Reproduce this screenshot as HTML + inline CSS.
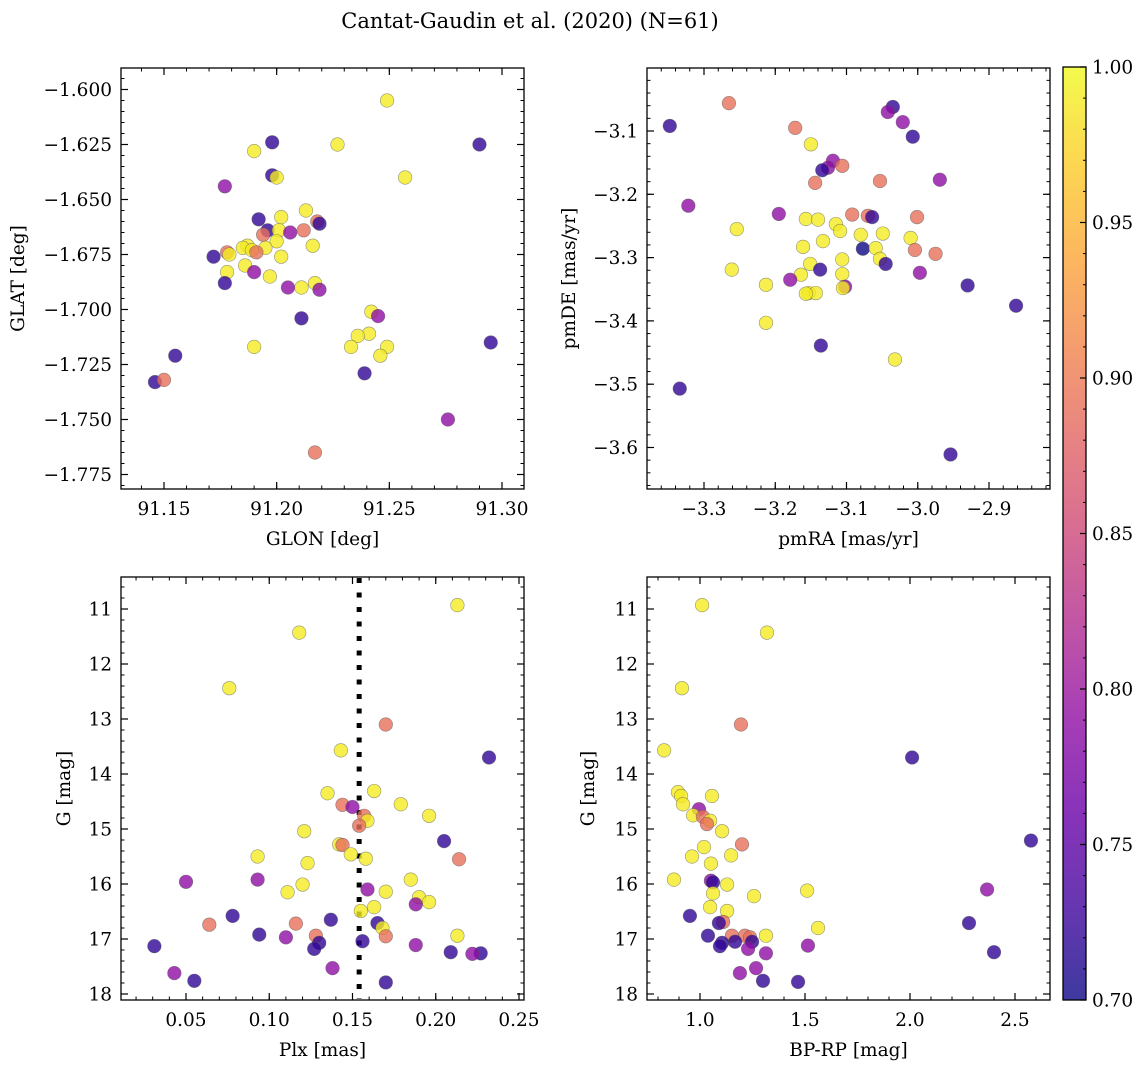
<!DOCTYPE html>
<html><head><meta charset="utf-8"><style>
html,body{margin:0;padding:0;background:#fff;}
svg{display:block;font-family:"DejaVu Serif","Liberation Serif",serif;}
</style></head><body>
<svg id="fig" width="1148" height="1067" viewBox="0 0 1148 1067" xmlns="http://www.w3.org/2000/svg">
<text x="530" y="28" font-size="21" text-anchor="middle">Cantat-Gaudin et al. (2020) (N=61)</text>
</svg>
<script>
// ---------- DATA ----------
const p1Glon=[91.249,91.198,91.227,91.290,91.190,91.257,91.198,91.200,91.177,91.213,91.202,91.192,91.218,91.219,91.212,91.196,91.201,91.206,91.194,91.200,91.187,91.185,91.189,91.178,91.195,91.191,91.172,91.179,91.216,91.202,91.186,91.178,91.197,91.190,91.177,91.217,91.211,91.205,91.219,91.211,91.242,91.245,91.241,91.236,91.233,91.249,91.246,91.190,91.295,91.155,91.239,91.146,91.150,91.276,91.217];
const p1Glat=[-1.605,-1.624,-1.625,-1.625,-1.628,-1.640,-1.639,-1.640,-1.644,-1.655,-1.658,-1.659,-1.660,-1.661,-1.664,-1.664,-1.664,-1.665,-1.666,-1.669,-1.671,-1.672,-1.673,-1.674,-1.672,-1.674,-1.676,-1.675,-1.671,-1.676,-1.680,-1.683,-1.685,-1.683,-1.688,-1.688,-1.690,-1.690,-1.691,-1.704,-1.701,-1.703,-1.711,-1.712,-1.717,-1.717,-1.721,-1.717,-1.715,-1.721,-1.729,-1.733,-1.732,-1.750,-1.765];
const p1Prob=[.99,.72,.99,.72,.99,.99,.72,.99,.79,.99,.99,.72,.89,.72,.89,.72,.99,.79,.89,.99,.99,.99,.99,.89,.99,.89,.72,.99,.99,.99,.99,.99,.99,.79,.72,.99,.99,.79,.79,.72,.99,.79,.99,.99,.99,.99,.99,.99,.72,.72,.72,.72,.89,.79,.89];

const p2PmRA=[-3.265,-3.348,-3.035,-3.042,-3.021,-3.007,-3.172,-3.150,-3.119,-3.126,-3.106,-3.134,-3.144,-3.053,-2.969,-3.322,-3.195,-3.092,-3.070,-3.064,-3.001,-3.157,-3.140,-3.115,-3.254,-3.109,-3.133,-3.080,-3.049,-3.010,-3.161,-3.077,-3.059,-3.004,-2.975,-3.053,-3.106,-3.151,-3.261,-3.045,-3.164,-3.137,-3.106,-2.997,-3.179,-3.213,-3.153,-3.143,-3.157,-3.102,-3.105,-2.930,-3.213,-2.862,-3.136,-3.334,-3.032,-2.954];
const p2PmDE=[-3.056,-3.092,-3.062,-3.070,-3.086,-3.109,-3.095,-3.121,-3.147,-3.158,-3.155,-3.162,-3.182,-3.179,-3.177,-3.218,-3.231,-3.232,-3.234,-3.236,-3.236,-3.239,-3.240,-3.247,-3.255,-3.258,-3.274,-3.264,-3.262,-3.269,-3.283,-3.286,-3.285,-3.288,-3.294,-3.302,-3.303,-3.310,-3.319,-3.310,-3.327,-3.319,-3.326,-3.324,-3.335,-3.343,-3.356,-3.356,-3.357,-3.346,-3.348,-3.344,-3.403,-3.376,-3.439,-3.507,-3.461,-3.611];
const p2Prob=[.89,.72,.72,.79,.79,.72,.89,.99,.79,.79,.89,.72,.89,.89,.79,.79,.79,.89,.89,.72,.89,.99,.99,.99,.99,.99,.99,.99,.99,.99,.99,.70,.99,.89,.89,.99,.99,.99,.99,.72,.99,.72,.99,.79,.79,.99,.99,.99,.99,.79,.99,.72,.99,.72,.72,.72,.99,.72];

const p3Plx=[.213,.118,.076,.170,.232,.143,.135,.163,.179,.144,.150,.157,.159,.196,.121,.154,.205,.142,.144,.149,.158,.093,.214,.123,.050,.093,.120,.159,.170,.185,.111,.190,.196,.188,.163,.155,.078,.137,.064,.116,.165,.168,.094,.110,.128,.130,.170,.213,.156,.188,.031,.127,.209,.227,.222,.138,.043,.055,.170];
const p3G=[10.93,11.43,12.44,13.10,13.70,13.57,14.35,14.31,14.55,14.56,14.60,14.76,14.85,14.76,15.04,14.94,15.22,15.28,15.29,15.46,15.54,15.50,15.55,15.62,15.96,15.92,16.01,16.10,16.14,15.92,16.15,16.24,16.33,16.37,16.42,16.49,16.58,16.65,16.74,16.72,16.71,16.80,16.92,16.97,16.94,17.07,16.95,16.94,17.04,17.11,17.13,17.18,17.24,17.26,17.27,17.53,17.62,17.76,17.79];
const p3Prob=[.99,.99,.99,.89,.72,.99,.99,.99,.99,.89,.79,.89,.99,.99,.99,.89,.72,.99,.89,.99,.99,.99,.89,.99,.79,.79,.99,.79,.99,.99,.99,.99,.99,.79,.99,.99,.72,.72,.89,.89,.72,.99,.72,.79,.89,.72,.89,.99,.72,.79,.72,.72,.72,.72,.79,.79,.79,.72,.72];
const plxCut=0.154;

const p4BpRp=[1.010,1.319,0.914,1.195,2.010,0.829,0.895,0.910,1.057,0.919,0.995,0.967,1.014,1.048,1.033,1.105,1.200,2.576,1.019,0.962,1.148,1.052,1.052,1.062,0.876,1.129,1.510,2.367,1.062,1.257,1.048,1.129,0.952,1.110,1.090,2.281,1.562,1.038,1.214,1.238,1.152,1.314,1.105,1.167,1.248,1.514,1.095,1.229,2.400,1.314,1.267,1.190,1.300,1.467];
const p4G=[10.93,11.43,12.44,13.10,13.70,13.57,14.33,14.40,14.40,14.55,14.64,14.75,14.78,14.85,14.91,15.04,15.28,15.21,15.33,15.50,15.48,15.63,15.94,15.97,15.92,16.01,16.12,16.10,16.17,16.22,16.42,16.49,16.58,16.69,16.71,16.71,16.80,16.94,16.94,16.97,16.94,16.94,17.07,17.05,17.05,17.12,17.13,17.18,17.24,17.26,17.53,17.62,17.76,17.78];
const p4Prob=[.99,.99,.99,.89,.72,.99,.99,.99,.99,.99,.79,.99,.89,.99,.89,.99,.89,.72,.99,.99,.99,.99,.79,.72,.99,.99,.99,.79,.99,.99,.99,.99,.72,.89,.72,.72,.99,.72,.89,.89,.89,.99,.72,.72,.72,.79,.72,.79,.72,.79,.79,.79,.72,.72];

const p1XTicks=[91.15,91.20,91.25,91.30];
const p1YTicks=[-1.600,-1.625,-1.650,-1.675,-1.700,-1.725,-1.750,-1.775];
const p2XTicks=[-3.3,-3.2,-3.1,-3.0,-2.9];
const p2YTicks=[-3.1,-3.2,-3.3,-3.4,-3.5,-3.6];
const p3XTicks=[0.05,0.10,0.15,0.20,0.25];
const gTicks=[11,12,13,14,15,16,17,18];
const p4XTicks=[1.0,1.5,2.0,2.5];
const cbTicks=[0.70,0.75,0.80,0.85,0.90,0.95,1.00];

// ---------- HELPERS ----------
const NS='http://www.w3.org/2000/svg';
const svg=document.getElementById('fig');
const FS=18.5;
function mk(tag,attrs,parent){const e=document.createElementNS(NS,tag);for(const k in attrs)e.setAttribute(k,attrs[k]);(parent||svg).appendChild(e);return e;}
const plasma=[[13,8,135],[65,4,157],[106,0,168],[143,13,164],[177,42,144],[204,71,120],[225,100,98],[242,132,75],[252,166,54],[252,206,37],[240,249,33]];
function cmap(p){let t=Math.max(0,Math.min(1,(p-0.7)/0.3))*10;const i=Math.min(9,Math.floor(t)),f=t-i;const a=plasma[i],b=plasma[i+1];
 return 'rgb('+a.map((v,k)=>Math.round(v+(b[k]-v)*f)).join(',')+')';}
function fmt(v,d){return (v<0?'\u2212':'')+Math.abs(v).toFixed(d);}
function scale(d0,p0,d1,p1){return v=>p0+(v-d0)*(p1-p0)/(d1-d0);}

function panel(cfg){
 const g=mk('g',{});
 
 
 const {L,T,R,B,sx,sy}=cfg;
 for(let v=cfg.xMinStart;v<=cfg.xMinEnd+1e-9;v+=cfg.xMinStep){const x=sx(v);if(x<L+0.5||x>R-0.5)continue;
  mk('line',{x1:x,x2:x,y1:B,y2:B-3.5,stroke:'#000','stroke-width':1},g);mk('line',{x1:x,x2:x,y1:T,y2:T+3.5,stroke:'#000','stroke-width':1},g);}
 for(let v=cfg.yMinStart;v<=cfg.yMinEnd+1e-9;v+=cfg.yMinStep){const y=sy(v);if(y<T+0.5||y>B-0.5)continue;
  mk('line',{x1:L,x2:L+3.5,y1:y,y2:y,stroke:'#000','stroke-width':1},g);mk('line',{x1:R,x2:R-3.5,y1:y,y2:y,stroke:'#000','stroke-width':1},g);}
 cfg.xTicks.forEach(v=>{const x=sx(v);
  mk('line',{x1:x,x2:x,y1:B,y2:B-7,stroke:'#000','stroke-width':1.2},g);mk('line',{x1:x,x2:x,y1:T,y2:T+7,stroke:'#000','stroke-width':1.2},g);
  const t=mk('text',{x:x,y:B+26,'font-size':FS,'text-anchor':'middle'},g);t.textContent=fmt(v,cfg.xDec);
  
  });
 cfg.yTicks.forEach(v=>{const y=sy(v);
  mk('line',{x1:L,x2:L+7,y1:y,y2:y,stroke:'#000','stroke-width':1.2},g);mk('line',{x1:R,x2:R-7,y1:y,y2:y,stroke:'#000','stroke-width':1.2},g);
  const t=mk('text',{x:L-9,y:y+6.5,'font-size':FS,'text-anchor':'end'},g);t.textContent=fmt(v,cfg.yDec);
  
  });
 if(cfg.extra)cfg.extra(g);
 cfg.xs.forEach((xv,i)=>{const c=mk('circle',{cx:sx(xv),cy:sy(cfg.ys[i]),r:6.8,fill:cmap(cfg.ps[i]),'fill-opacity':0.8,stroke:'#555','stroke-opacity':0.6,'stroke-width':0.6},g);
  
  });
 mk('rect',{x:L,y:T,width:R-L,height:B-T,fill:'none',stroke:'#000','stroke-width':1.3},g);
 const xl=mk('text',{x:(L+R)/2,y:B+56,'font-size':FS,'text-anchor':'middle'},g);xl.textContent=cfg.xLabel;
 
 
 const yl=mk('text',{x:0,y:0,'font-size':FS,'text-anchor':'middle',transform:`translate(${cfg.yLabX},${(T+B)/2}) rotate(-90)`},g);yl.textContent=cfg.yLabel;
 
 
}

panel({name:'glon-glat-panel',L:121,T:68,R:524,B:489,sx:scale(91.15,164,91.30,502),sy:scale(-1.600,89.5,-1.775,474.5),
 xTicks:p1XTicks,yTicks:p1YTicks,xDec:2,yDec:3,xMinStart:91.13,xMinEnd:91.31,xMinStep:0.01,yMinStart:-1.785,yMinEnd:-1.59,yMinStep:0.005,
 xs:p1Glon,ys:p1Glat,ps:p1Prob,xLabel:'GLON [deg]',yLabel:'GLAT [deg]',yLabX:24});
panel({name:'proper-motion-panel',L:647,T:68,R:1050,B:489,sx:scale(-3.3,704,-2.9,989),sy:scale(-3.1,131,-3.6,447.5),
 xTicks:p2XTicks,yTicks:p2YTicks,xDec:1,yDec:1,xMinStart:-3.38,xMinEnd:-2.80,xMinStep:0.02,yMinStart:-3.68,yMinEnd:-3.0,yMinStep:0.02,
 xs:p2PmRA,ys:p2PmDE,ps:p2Prob,xLabel:'pmRA [mas/yr]',yLabel:'pmDE [mas/yr]',yLabX:575});
panel({name:'parallax-magnitude-panel',L:121,T:577,R:524,B:1000,sx:scale(0.05,186,0.25,519),sy:scale(11,609,18,994),
 xTicks:p3XTicks,yTicks:gTicks,xDec:2,yDec:0,xMinStart:0.01,xMinEnd:0.26,xMinStep:0.01,yMinStart:10.4,yMinEnd:18.2,yMinStep:0.2,
 xs:p3Plx,ys:p3G,ps:p3Prob,xLabel:'Plx [mas]',yLabel:'G [mag]',yLabX:70,
 extra:function(g){const x=scale(0.05,186,0.25,519)(plxCut);const l=mk('line',{x1:x,x2:x,y1:578,y2:999,stroke:'#000','stroke-width':5,'stroke-dasharray':'5 9.5'},g);
  
  }});
panel({name:'color-magnitude-panel',L:647,T:577,R:1050,B:1000,sx:scale(1.0,700,2.5,1015),sy:scale(11,609,18,994),
 xTicks:p4XTicks,yTicks:gTicks,xDec:1,yDec:0,xMinStart:0.7,xMinEnd:2.7,xMinStep:0.1,yMinStart:10.4,yMinEnd:18.2,yMinStep:0.2,
 xs:p4BpRp,ys:p4G,ps:p4Prob,xLabel:'BP-RP [mag]',yLabel:'G [mag]',yLabX:594});

(function(){
 const L=1063,R=1086,T=67,B=1000;
 const g=mk('g',{});
 
 
 const defs=mk('defs',{},g);
 const lg=mk('linearGradient',{id:'cbg',x1:0,y1:1,x2:0,y2:0},defs);
 plasma.forEach((c,i)=>mk('stop',{offset:(i/10),'stop-color':`rgb(${c.join(',')})`},lg));
 mk('rect',{x:L,y:T,width:R-L,height:B-T,fill:'url(#cbg)','fill-opacity':0.8},g);
 const sy=scale(0.7,B,1.0,T);
 for(let v=0.71;v<1.0;v+=0.01){const y=sy(v);mk('line',{x1:R,x2:R-3,y1:y,y2:y,stroke:'#000','stroke-width':1},g);}
 cbTicks.forEach(v=>{const y=sy(v);mk('line',{x1:R,x2:R-6,y1:y,y2:y,stroke:'#000','stroke-width':1.2},g);
  const t=mk('text',{x:R+6,y:y+6.5,'font-size':FS},g);t.textContent=v.toFixed(2);
  
  });
 mk('rect',{x:L,y:T,width:R-L,height:B-T,fill:'none',stroke:'#000','stroke-width':1.3},g);
})();
</script>
</body></html>
